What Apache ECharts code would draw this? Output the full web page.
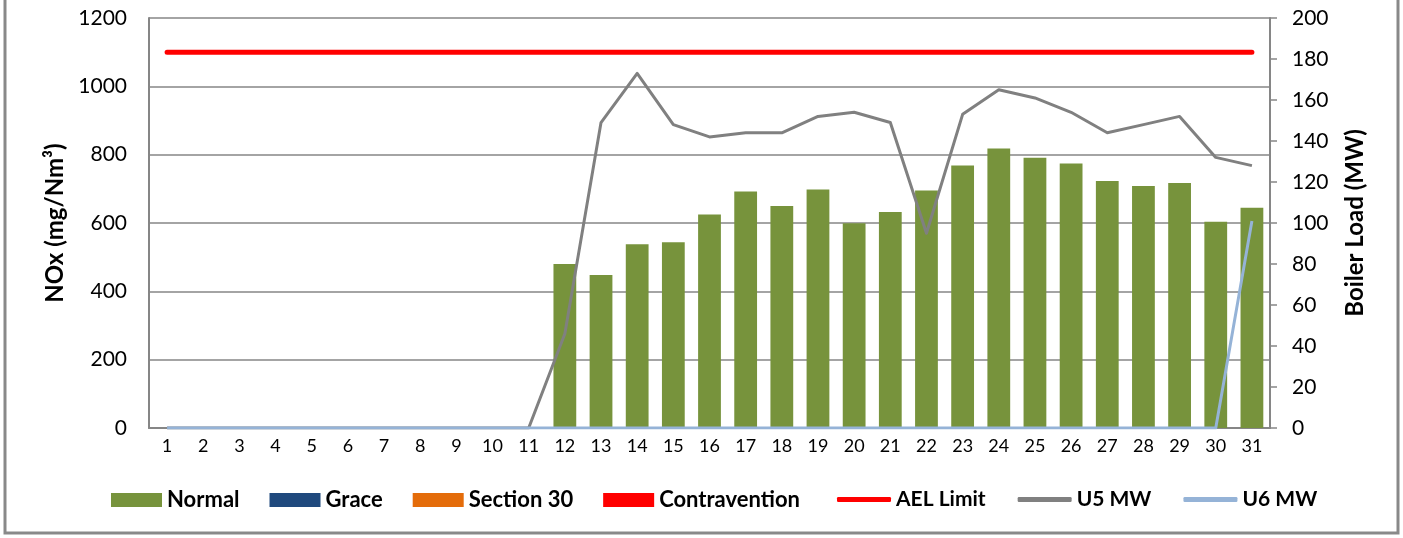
<!DOCTYPE html>
<html>
<head>
<meta charset="utf-8">
<script src="https://cdn.jsdelivr.net/npm/echarts@6/dist/echarts.min.js"></script>
<style>
  html, body { margin: 0; padding: 0; background: #fff; }
  #chart { width: 1403px; height: 538px; }
</style>
</head>
<body>
<div id="chart"></div>
<script>
// days of the month
const days = ['1', '2', '3', '4', '5', '6', '7', '8', '9', '10', '11', '12', '13', '14', '15', '16',
  '17', '18', '19', '20', '21', '22', '23', '24', '25', '26', '27', '28', '29', '30', '31']

// NOx (mg/Nm3) - stacked bars by status
const normal = [0, 0, 0, 0, 0, 0, 0, 0, 0, 0, 0, 480, 448, 538, 544, 625, 692, 650, 698, 599,
  632, 695, 768, 818, 791, 774, 723, 708, 717, 604, 645]
const grace = [0, 0, 0, 0, 0, 0, 0, 0, 0, 0, 0, 0, 0, 0, 0, 0, 0, 0, 0, 0, 0, 0, 0, 0, 0, 0, 0, 0, 0, 0, 0]
const section30 = [0, 0, 0, 0, 0, 0, 0, 0, 0, 0, 0, 0, 0, 0, 0, 0, 0, 0, 0, 0, 0, 0, 0, 0, 0, 0, 0, 0, 0, 0, 0]
const contravention = [0, 0, 0, 0, 0, 0, 0, 0, 0, 0, 0, 0, 0, 0, 0, 0, 0, 0, 0, 0, 0, 0, 0, 0, 0, 0, 0, 0, 0, 0, 0]

// AEL limit (mg/Nm3)
const aelLimit = [1100, 1100, 1100, 1100, 1100, 1100, 1100, 1100, 1100, 1100, 1100, 1100, 1100, 1100, 1100, 1100,
  1100, 1100, 1100, 1100, 1100, 1100, 1100, 1100, 1100, 1100, 1100, 1100, 1100, 1100, 1100]

// boiler load (MW)
const u5 = [0, 0, 0, 0, 0, 0, 0, 0, 0, 0, 0, 46, 149, 173, 148, 142, 144, 144, 152, 154,
  149, 95, 153, 165, 161, 154, 144, 148, 152, 132, 128]
const u6 = [0, 0, 0, 0, 0, 0, 0, 0, 0, 0, 0, 0, 0, 0, 0, 0, 0, 0, 0, 0, 0, 0, 0, 0, 0, 0, 0, 0, 0, 0, 101]

const font = 'Lato'
const axisGray = '#868686'

const chart = echarts.init(document.getElementById('chart'))

const barSeries = (name, data, color) => ({
  name,
  type: 'bar',
  stack: 'nox',
  yAxisIndex: 0,
  data,
  barWidth: '63%',
  itemStyle: { color }
})

const option = {
  backgroundColor: '#fff',
  animation: false,
  textStyle: { fontFamily: font },
  graphic: [
    {
      type: 'rect',
      shape: { x: 5, y: -10, width: 1393, height: 543 },
      style: { fill: 'none', stroke: '#898989', lineWidth: 3 },
      silent: true
    }
  ],
  grid: { left: 149, right: 133, top: 18, bottom: 110 },
  legend: [
    {
      top: 484,
      left: 106,
      itemWidth: 51,
      itemHeight: 14,
      itemGap: 30,
      textStyle: { fontFamily: font, fontWeight: 'bold', fontSize: 22, color: '#000' },
      data: [
        { name: 'Normal', icon: 'rect' },
        { name: 'Grace', icon: 'rect' },
        { name: 'Section 30', icon: 'rect' },
        { name: 'Contravention', icon: 'rect' }
      ]
    },
    {
      top: 484,
      left: 832,
      itemWidth: 54,
      itemHeight: 5,
      itemGap: 32,
      textStyle: { fontFamily: font, fontWeight: 'bold', fontSize: 21, color: '#000' },
      data: [
        { name: 'AEL Limit', icon: 'roundRect' },
        { name: 'U5 MW', icon: 'roundRect' },
        { name: 'U6 MW', icon: 'roundRect' }
      ]
    }
  ],
  xAxis: {
    type: 'category',
    data: days,
    boundaryGap: true,
    axisLine: { lineStyle: { color: axisGray, width: 2 } },
    axisTick: { alignWithLabel: true, length: 5, lineStyle: { color: axisGray, width: 1.5 } },
    axisLabel: { color: '#000', fontSize: 18, margin: 9, interval: 0 }
  },
  yAxis: [
    {
      type: 'value',
      min: 0,
      max: 1200,
      interval: 200,
      name: 'NOx (mg/Nm³)',
      nameLocation: 'middle',
      nameRotate: 90,
      nameGap: 82,
      nameTextStyle: { fontFamily: font, fontWeight: 'bold', fontSize: 24, color: '#000' },
      axisLine: { show: true, lineStyle: { color: axisGray, width: 2 } },
      axisTick: { show: false },
      axisLabel: { color: '#000', fontSize: 21, margin: 22, formatter: v => String(v) },
      splitLine: { lineStyle: { color: '#868686', width: 1.5 } }
    },
    {
      type: 'value',
      min: 0,
      max: 200,
      interval: 20,
      position: 'right',
      name: 'Boiler Load (MW)',
      nameLocation: 'middle',
      nameRotate: 90,
      nameGap: 73,
      nameTextStyle: { fontFamily: font, fontWeight: 'bold', fontSize: 24, color: '#000' },
      axisLine: { show: true, lineStyle: { color: axisGray, width: 2 } },
      axisTick: { show: true, length: 7, lineStyle: { color: axisGray, width: 1.5 } },
      axisLabel: { color: '#000', fontSize: 21, margin: 22 },
      splitLine: { show: false }
    }
  ],
  series: [
    barSeries('Normal', normal, '#77933C'),
    barSeries('Grace', grace, '#1F497D'),
    barSeries('Section 30', section30, '#E46C0A'),
    barSeries('Contravention', contravention, '#FF0000'),
    {
      name: 'AEL Limit',
      type: 'line',
      yAxisIndex: 0,
      data: aelLimit,
      symbol: 'none',
      itemStyle: { color: '#FF0000' },
      lineStyle: { color: '#FF0000', width: 5, cap: 'round' }
    },
    {
      name: 'U5 MW',
      type: 'line',
      yAxisIndex: 1,
      data: u5,
      symbol: 'none',
      itemStyle: { color: '#808080' },
      lineStyle: { color: '#808080', width: 3, join: 'round' }
    },
    {
      name: 'U6 MW',
      type: 'line',
      yAxisIndex: 1,
      data: u6,
      symbol: 'none',
      itemStyle: { color: '#95B3D7' },
      lineStyle: { color: '#95B3D7', width: 3, join: 'round' }
    }
  ]
}

chart.setOption(option)
</script>
</body>
</html>
